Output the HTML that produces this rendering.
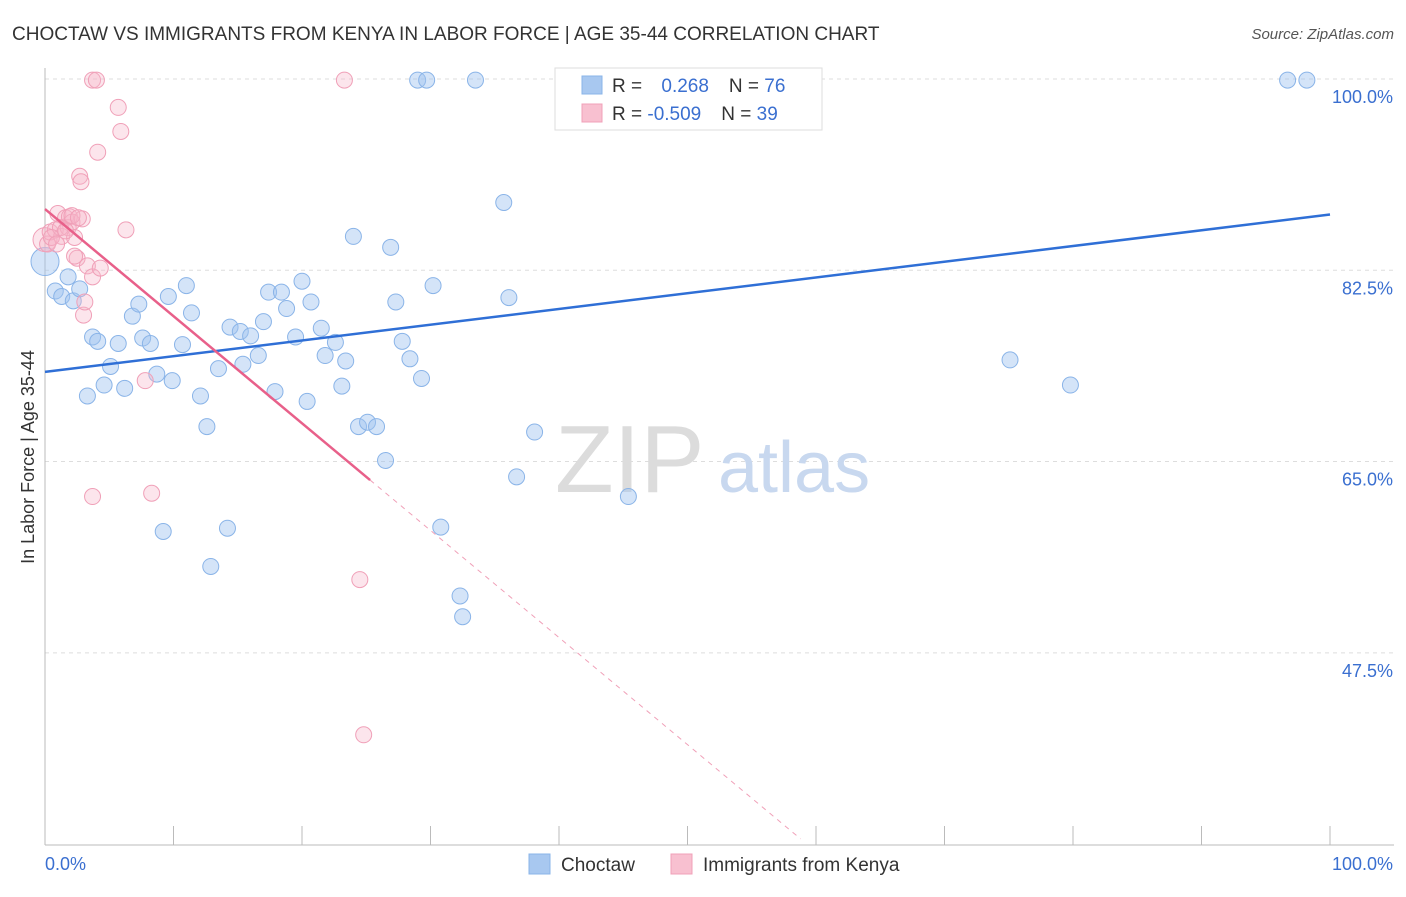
<!DOCTYPE html>
<html><head><meta charset="utf-8"><style>
body{margin:0;background:#fff;font-family:"Liberation Sans",sans-serif;}
svg text{font-family:"Liberation Sans",sans-serif;}
</style></head><body>
<svg id="chart" width="1406" height="892" xmlns="http://www.w3.org/2000/svg">
<text x="12" y="40" font-size="19" fill="#333">CHOCTAW VS IMMIGRANTS FROM KENYA IN LABOR FORCE | AGE 35-44 CORRELATION CHART</text>
<text x="1394" y="39" font-size="15" fill="#555" text-anchor="end" font-style="italic">Source: ZipAtlas.com</text>
<g id="grid"></g>
<g>
<text x="555" y="492" font-size="96" fill="#dcdcdc" font-family="Liberation Serif, serif">ZIP</text>
<text x="718" y="492" font-size="72" fill="#c8d8ef">atlas</text>
</g>
<g id="axes"></g>
<text transform="translate(34,457) rotate(-90)" font-size="18" fill="#333" text-anchor="middle">In Labor Force | Age 35-44</text>
<g id="marks"></g>
<g>
<rect x="555" y="68" width="267" height="62" fill="#fff" stroke="#ddd"/>
<rect x="582" y="76" width="20" height="18" fill="#a8c8f0" stroke="#8ab4e8"/>
<rect x="582" y="104" width="20" height="18" fill="#f8c0d0" stroke="#f0a0b8"/>
<text x="612" y="92" font-size="19" fill="#333">R = <tspan fill="#3a6fd0" dx="14">0.268</tspan><tspan dx="20">N = </tspan><tspan fill="#3a6fd0">76</tspan></text>
<text x="612" y="120" font-size="19" fill="#333">R = <tspan fill="#3a6fd0">-0.509</tspan><tspan dx="20">N = </tspan><tspan fill="#3a6fd0">39</tspan></text>
</g>
<g>
<rect x="529" y="854" width="21" height="20" fill="#a8c8f0" stroke="#8ab4e8"/>
<text x="561" y="871" font-size="19" fill="#333">Choctaw</text>
<rect x="671" y="854" width="21" height="20" fill="#f8c0d0" stroke="#f0a0b8"/>
<text x="703" y="871" font-size="19" fill="#333">Immigrants from Kenya</text>
</g>
</svg>
<script>
const yTicks=[100,82.5,65,47.5];
const yTickLabels=["100.0%","82.5%","65.0%","47.5%"];
const xTickLabels=["0.0%","100.0%"];
const blueX=[0,0.8,1.3,1.8,2.2,2.7,3.3,3.7,4.1,4.6,5.1,5.7,6.2,6.8,7.3,7.6,8.2,8.7,9.2,9.6,9.9,10.7,11.0,11.4,12.1,12.6,12.9,13.5,14.2,14.4,15.2,15.4,16.0,16.6,17.0,17.4,17.9,18.4,18.8,19.5,20.0,20.4,20.7,21.5,21.8,22.6,23.1,23.4,24.4,25.1,25.8,26.5,26.9,27.3,27.8,28.4,29.0,29.3,29.7,30.2,30.8,24.0,32.3,32.5,33.5,35.7,36.1,36.7,38.1,43.5,45.4,46.7,75.1,79.8,96.7,98.2];
const blueY=[83.3,80.6,80.1,81.9,79.7,80.8,71.0,76.4,76.0,72.0,73.7,75.8,71.7,78.3,79.4,76.3,75.8,73.0,58.6,80.1,72.4,75.7,81.1,78.6,71.0,68.2,55.4,73.5,58.9,77.3,76.9,73.9,76.5,74.7,77.8,80.5,71.4,80.5,79.0,76.4,81.5,70.5,79.6,77.2,74.7,75.9,71.9,74.2,68.2,68.6,68.2,65.1,84.6,79.6,76.0,74.4,99.9,72.6,99.9,81.1,59.0,85.6,52.7,50.8,99.9,88.7,80.0,63.6,67.7,99.9,61.8,99.9,74.3,72.0,99.9,99.9];
const pinkX=[0,0.2,0.4,0.8,1.0,1.3,1.6,1.8,1.9,2.1,2.3,2.5,2.7,2.8,2.9,3.0,3.1,3.3,3.7,3.7,3.7,4.0,4.1,4.3,5.7,5.9,6.3,7.8,8.3,23.3,24.5,24.8,1.2,0.5,1.6,2.1,0.9,2.3,2.6];
const pinkY=[85.3,84.9,86.0,86.2,87.7,85.6,87.3,86.4,87.4,86.9,85.5,83.6,91.1,90.6,87.2,78.4,79.6,82.9,81.9,99.9,61.8,99.9,93.3,82.7,97.4,95.2,86.2,72.4,62.1,99.9,54.2,40.0,86.4,85.5,86.1,87.5,84.9,83.8,87.3];
const blueTrend=[73.2,87.6];
const pinkTrend=[88.1,-0.98];
const NS="http://www.w3.org/2000/svg";
const X=v=>45+v*12.85, Y=v=>79+(100-v)*10.93;
function mk(tag,attrs,parent){const e=document.createElementNS(NS,tag);for(const k in attrs)e.setAttribute(k,attrs[k]);parent.appendChild(e);return e;}
const grid=document.getElementById('grid'),axes=document.getElementById('axes'),marks=document.getElementById('marks');
yTicks.forEach((t,i)=>{
 const l=mk('line',{x1:45,x2:1394,y1:Y(t),y2:Y(t),stroke:'#ddd','stroke-dasharray':'4,4'},grid);
 
 
 const tx=mk('text',{x:1393,y:Y(t)+24,'font-size':18,fill:'#3a6fd0','text-anchor':'end'},axes);
 tx.textContent=yTickLabels[i];
 
 
});
mk('line',{x1:45,x2:45,y1:68,y2:845,stroke:'#bbb'},axes);
mk('line',{x1:45,x2:1394,y1:845,y2:845,stroke:'#bbb'},axes);
for(let i=0;i<=10;i++){const t=mk('line',{x1:X(i*10),x2:X(i*10),y1:826,y2:845,stroke:'#bbb'},axes);}
const xl0=mk('text',{x:45,y:870,'font-size':18,fill:'#3a6fd0'},axes);xl0.textContent=xTickLabels[0];


const xl1=mk('text',{x:1393,y:870,'font-size':18,fill:'#3a6fd0','text-anchor':'end'},axes);xl1.textContent=xTickLabels[1];


blueX.forEach((x,i)=>{const c=mk('circle',{cx:X(x),cy:Y(blueY[i]),r:i===0?14:8,fill:'rgba(160,196,240,0.45)',stroke:'#8ab4e8','stroke-width':1},marks);
 
 });
pinkX.forEach((x,i)=>{const c=mk('circle',{cx:X(x),cy:Y(pinkY[i]),r:i===0?12:8,fill:'rgba(245,180,200,0.35)',stroke:'#f0a0b8','stroke-width':1},marks);
 
 });
const bl=mk('line',{x1:X(0),y1:Y(blueTrend[0]),x2:X(100),y2:Y(blueTrend[1]),stroke:'#2f6fd6','stroke-width':2.5},marks);


const pe=25.3, pd=58.8;
const pl=mk('line',{x1:X(0),y1:Y(pinkTrend[0]),x2:X(pe),y2:Y(pinkTrend[0]+pinkTrend[1]*pe),stroke:'#e8608a','stroke-width':2.5},marks);


const pdl=mk('line',{x1:X(pe),y1:Y(pinkTrend[0]+pinkTrend[1]*pe),x2:X(pd),y2:Y(pinkTrend[0]+pinkTrend[1]*pd),stroke:'#f0a0b8','stroke-width':1,'stroke-dasharray':'5,5'},marks);


</script>
</body></html>
